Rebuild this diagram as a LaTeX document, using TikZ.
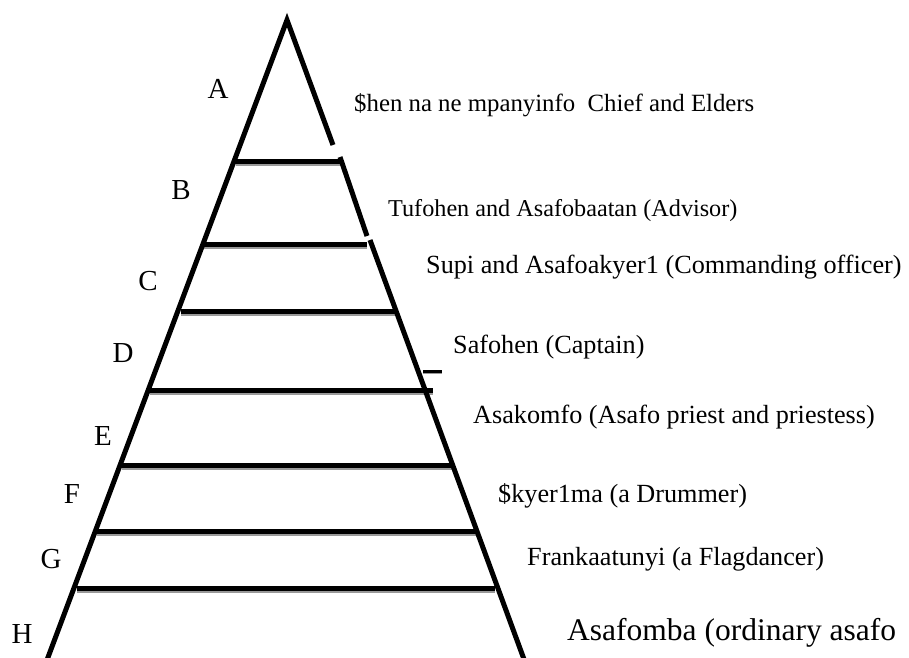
\documentclass[tikz,border=0pt]{standalone}
\usepackage{fontspec}
\setmainfont{Liberation Serif}
\begin{document}
\begin{tikzpicture}[x=1pt,y=-1pt,
  edge/.style={line width=5pt, line join=miter},
  rung/.style={line width=5pt},
  rungshade/.style={line width=3pt, color=black!40},
  lvl/.style={anchor=base, inner sep=0pt, font=\fontsize{29}{29}\selectfont},
  role/.style={anchor=base west, inner sep=0pt, font=\fontsize{26.2}{26}\selectfont}]
\useasboundingbox (0,0) rectangle (909,657);
% triangle sides
\coordinate (apex) at (287,20);
\coordinate (bl) at (47,660);
\coordinate (s1e) at (333,145);
\coordinate (s2a) at (340,157);
\coordinate (s2e) at (367,236);
\coordinate (s3a) at (370,240);
\coordinate (s3e) at (525,662);
% rungs: shadows first
\foreach \y/\xa/\xb in {161/236/342, 244/203/367, 311/181/397, 390/150/433, 465/122/452, 531/97/478, 588/77/495}{
  \draw[rungshade] (\xa,\y+3.5) -- (\xb,\y+3.5);
}
\draw[rungshade, line width=2pt] (423,373) -- (442,373);
\foreach \y/\xa/\xb in {161/236/342, 244/203/367, 311/181/397, 390/150/433, 465/122/452, 531/97/478, 588/77/495}{
  \draw[rung] (\xa,\y) -- (\xb,\y);
}
\draw[rung, line width=3pt] (423,371) -- (442,371);
\draw[edge] (bl) -- (apex) -- (s1e);
\draw[edge] (s2a) -- (s2e);
\draw[edge] (s3a) -- (s3e);
% level letters
\node[lvl] (la) at (218,98) {A};
\node[lvl] (lb) at (181,199) {B};
\node[lvl] (lc) at (148,290) {C};
\node[lvl] (ld) at (123,362) {D};
\node[lvl] (le) at (103,445) {E};
\node[lvl] (lf) at (72,503) {F};
\node[lvl] (lg) at (51,568) {G};
\node[lvl] (lh) at (22,643) {H};
% roles
\node[role, font=\fontsize{24.8}{25}\selectfont] (r1) at (354,111) {\$hen na ne mpanyinfo\ \ Chief and Elders};
\node[role, font=\fontsize{24.2}{25}\selectfont] (r2) at (388,216) {Tufohen and Asafobaatan (Advisor)};
\node[role] (r3) at (426,273) {Supi and Asafoakyer1 (Commanding officer)};
\node[role] (r4) at (453,353) {Safohen (Captain)};
\node[role] (r5) at (473,423) {Asakomfo (Asafo priest and priestess)};
\node[role] (r6) at (498,502) {\$kyer1ma (a Drummer)};
\node[role] (r7) at (527,565) {Frankaatunyi (a Flagdancer)};
\node[role, font=\fontsize{31.5}{32}\selectfont] (r8) at (567,640) {Asafomba (ordinary asafo};
\end{tikzpicture}
\end{document}
